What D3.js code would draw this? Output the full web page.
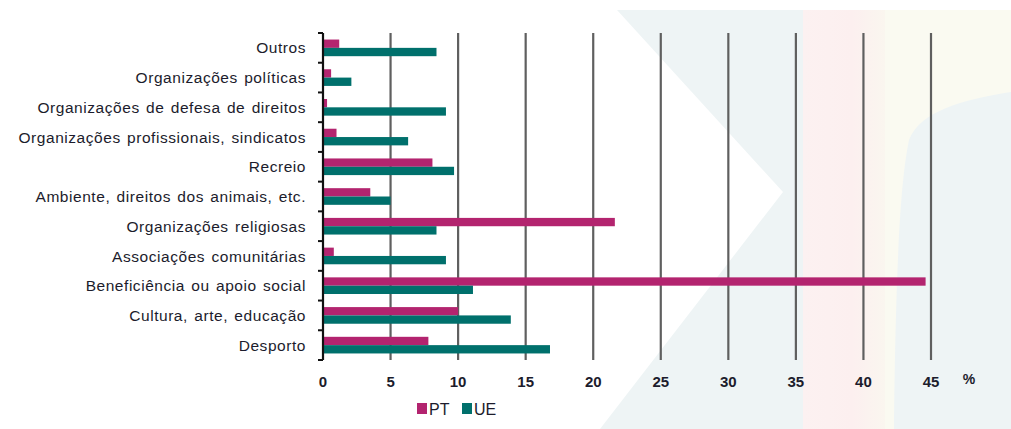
<!DOCTYPE html>
<html><head><meta charset="utf-8">
<script src="https://cdn.jsdelivr.net/npm/d3@7"></script>
<style>body{margin:0;background:#fff}svg{display:block}</style>
</head><body>
<svg id="c" width="1011" height="429"></svg>
<script>
const categories = ["Outros","Organizações políticas","Organizações de defesa de direitos","Organizações profissionais, sindicatos","Recreio","Ambiente, direitos dos animais, etc.","Organizações religiosas","Associações comunitárias","Beneficiência ou apoio social","Cultura, arte, educação","Desporto"];
const ptValues = [1.2,0.6,0.3,1.0,8.1,3.5,21.6,0.8,44.6,10.0,7.8];
const ueValues = [8.4,2.1,9.1,6.3,9.7,5.0,8.4,9.1,11.1,13.9,16.8];
const seriesNames = ["PT","UE"];
const xTicks = [0,5,10,15,20,25,30,35,40,45];
const colors = {PT:"#b3246f", UE:"#00706c"};

const svg = d3.select("#c");
const font = "Liberation Sans, Arial, sans-serif";
// background decoration
const bg = svg.append("g");
const grad = svg.append("defs").append("linearGradient").attr("id","pk").attr("x1","0").attr("x2","1");
grad.append("stop").attr("offset","0").attr("stop-color","#fcf1f1");
grad.append("stop").attr("offset","0.6").attr("stop-color","#fcefef");
grad.append("stop").attr("offset","1").attr("stop-color","#faf6ef");
bg.append("rect").attr("x",590).attr("y",10).attr("width",421).attr("height",419).attr("fill","#eef4f5");
bg.append("path").attr("d","M885,10 L1011,10 L1011,92 C960,100 920,112 909,140 C901,180 896,250 894,429 L885,429 Z").attr("fill","#fafaf1");
bg.append("rect").attr("x",803).attr("y",10).attr("width",82).attr("height",419).attr("fill","url(#pk)");
bg.append("path").attr("d","M560,10 L617,10 L783,192 L600,429 L560,429 Z").attr("fill","#ffffff");

const x = d3.scaleLinear().domain([0,45]).range([323,931]);
const y = d3.scaleBand().domain(categories).range([33,360]).paddingInner(0.44).paddingOuter(0.22);
const ySub = d3.scaleBand().domain(seriesNames).range([0,y.bandwidth()]);

// gridlines
svg.append("g").selectAll("line").data(xTicks.filter(d=>d>0)).join("line")
  .attr("x1",d=>x(d)).attr("x2",d=>x(d)).attr("y1",33).attr("y2",360)
  .attr("stroke","#5f5f5f").attr("stroke-width",2.2);

// bars
const data = categories.map((c,i)=>({c, PT:ptValues[i], UE:ueValues[i]}));
const g = svg.append("g");
seriesNames.forEach(s=>{
  g.selectAll("rect."+s).data(data).join("rect").attr("class",s)
    .attr("x",x(0)).attr("y",d=>y(d.c)+ySub(s)).attr("width",d=>x(d[s])-x(0))
    .attr("height",ySub.bandwidth()).attr("fill",colors[s]);
});

// y axis
const ya = svg.append("g").attr("transform",`translate(${x(0)},0)`);
ya.append("line").attr("x1",0).attr("x2",0).attr("y1",33).attr("y2",360).attr("stroke","#111").attr("stroke-width",2.2);
const bounds = d3.range(categories.length+1).map(i=>33+i*(327/categories.length));
ya.selectAll("line.t").data(bounds).join("line").attr("class","t")
  .attr("x1",-5).attr("x2",0).attr("y1",d=>d).attr("y2",d=>d).attr("stroke","#111").attr("stroke-width",2);
svg.append("g").selectAll("text").data(categories).join("text")
  .attr("x",306).attr("y",d=>y(d)+y.bandwidth()/2).attr("dy","0.36em")
  .attr("text-anchor","end").attr("font-family",font)
  .attr("font-size",15.5).attr("fill","#1c1c2c").attr("letter-spacing",0.55).attr("word-spacing",1.5).text(d=>d);

// x tick labels
svg.append("g").selectAll("text").data(xTicks).join("text")
  .attr("x",d=>x(d)).attr("y",382).attr("dy","0.36em").attr("text-anchor","middle")
  .attr("font-family",font).attr("font-size",15).attr("font-weight","bold")
  .attr("fill","#1c1c2c").text(d=>d);
svg.append("text").attr("x",969).attr("y",379).attr("dy","0.36em").attr("text-anchor","middle")
  .attr("font-family",font).attr("font-size",14).attr("font-weight","bold")
  .attr("fill","#1c1c2c").text("%");

// legend
const lg = svg.append("g");
const lx = [417,462];
seriesNames.forEach((s,i)=>{
  lg.append("rect").attr("x",lx[i]).attr("y",403).attr("width",10).attr("height",11).attr("fill",colors[s]);
  lg.append("text").attr("x",lx[i]+12).attr("y",409).attr("dy","0.36em")
    .attr("font-family",font).attr("font-size",16).attr("fill","#1c1c2c").text(s);
});
</script>
</body></html>
